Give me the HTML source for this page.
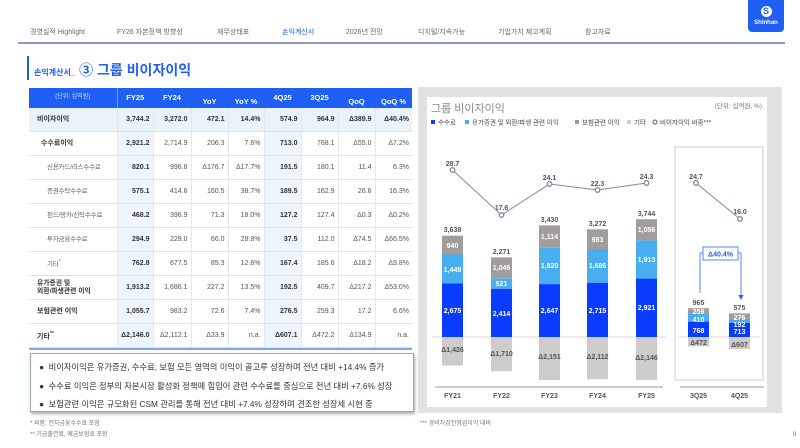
<!DOCTYPE html>
<html><head><meta charset="utf-8"><style>
*{margin:0;padding:0;box-sizing:border-box}
body{width:800px;height:448px;background:#fff;position:relative;overflow:hidden;font-family:"Liberation Sans","Noto Sans CJK KR",sans-serif}
.a{position:absolute;white-space:nowrap}
.nav{top:27px;font-size:7px;color:#666}
table{position:absolute;left:29px;top:87px;border-collapse:collapse;table-layout:fixed;font-size:7px;width:383px}
td{height:24px;max-height:24px;line-height:9px;text-align:right;padding-right:3px;color:#555;border-bottom:1px solid #dde3ea;border-left:1px solid #e4e8ee;white-space:nowrap;overflow:hidden}
td.l{text-align:left;border-left:none;color:#333;font-weight:bold;padding-left:8px}
td.s{font-weight:normal;color:#666;padding-left:18px;font-size:6.5px;letter-spacing:-0.2px}
td.l2{padding-left:12px}
td.b{font-weight:bold;color:#333;background:#eef6fd}
tr.r1 td{background:#e8f3fc;font-weight:bold;color:#333}
tr.h td{height:20px;background:#1f5ff5;color:#fff;font-weight:bold;text-align:center;padding:0;border:none;font-size:7.5px}
svg text{font-family:"Liberation Sans","Noto Sans CJK KR",sans-serif}
</style></head><body>
<div class="a nav" style="left:30px">경영실적 Highlight</div>
<div class="a nav" style="left:117px">FY26 자본정책 방향성</div>
<div class="a nav" style="left:217px">재무상태표</div>
<div class="a nav" style="left:282px;color:#1f5ff5">손익계산서</div>
<div class="a nav" style="left:346px">2026년 전망</div>
<div class="a nav" style="left:418px">디지털/지속가능</div>
<div class="a nav" style="left:498px">기업가치 제고계획</div>
<div class="a nav" style="left:585px">참고자료</div>
<div class="a" style="left:748px;top:0;width:36px;height:32px;background:#1f5ff5;border-radius:0 0 4px 4px;color:#fff;font-size:6px;text-align:center;padding-top:6px;font-weight:bold"><div style="width:11px;height:11px;border-radius:50%;background:#fff;margin:0 auto 3px;color:#1f5ff5;font-size:9px;line-height:11px">S</div>Shinhan</div>
<div class="a" style="left:18px;top:42px;width:767px;height:2px;background:#8a9ab8"></div>
<div class="a" style="left:27px;top:56px;width:2px;height:24px;background:#1f5ff5"></div>
<div class="a" style="left:34px;top:60px;color:#1f5ff5;font-weight:bold;font-size:14px"><span style="font-size:8px">손익계산서_</span> ③ 그룹 비이자이익</div>

<table>
<colgroup><col style="width:88px"><col style="width:36px"><col style="width:38px"><col style="width:37px"><col style="width:36px"><col style="width:37px"><col style="width:37px"><col style="width:37px"><col style="width:37px"></colgroup>
<tr class="h"><td style="font-weight:normal;font-size:6px;color:#cfe0ff;border-right:1px solid #6f95f8">(단위: 십억원)</td><td>FY25</td><td>FY24</td><td style="border-top:1px solid #fff;padding-top:7px">YoY</td><td style="border-top:1px solid #fff;padding-top:7px">YoY %</td><td>4Q25</td><td>3Q25</td><td style="border-top:1px solid #fff;padding-top:7px">QoQ</td><td style="border-top:1px solid #fff;padding-top:7px">QoQ %</td></tr>
<tr class="r1"><td class="l">비이자이익</td><td>3,744.2</td><td>3,272.0</td><td>472.1</td><td>14.4%</td><td>574.9</td><td>964.9</td><td>Δ389.9</td><td>Δ40.4%</td></tr>
<tr><td class="l l2">수수료이익</td><td class="b">2,921.2</td><td>2,714.9</td><td>206.3</td><td>7.6%</td><td class="b">713.0</td><td>768.1</td><td>Δ55.0</td><td>Δ7.2%</td></tr>
<tr><td class="l s">신용카드/리스수수료</td><td class="b">820.1</td><td>996.8</td><td>Δ176.7</td><td>Δ17.7%</td><td class="b">191.5</td><td>180.1</td><td>11.4</td><td>6.3%</td></tr>
<tr><td class="l s">증권수탁수수료</td><td class="b">575.1</td><td>414.6</td><td>160.5</td><td>38.7%</td><td class="b">189.5</td><td>162.9</td><td>26.6</td><td>16.3%</td></tr>
<tr><td class="l s">펀드/방카/신탁수수료</td><td class="b">468.2</td><td>396.9</td><td>71.3</td><td>18.0%</td><td class="b">127.2</td><td>127.4</td><td>Δ0.3</td><td>Δ0.2%</td></tr>
<tr><td class="l s">투자금융수수료</td><td class="b">294.9</td><td>229.0</td><td>66.0</td><td>28.8%</td><td class="b">37.5</td><td>112.0</td><td>Δ74.5</td><td>Δ66.5%</td></tr>
<tr><td class="l s">기타<sup style="font-size:5px">*</sup></td><td class="b">762.8</td><td>677.5</td><td>85.3</td><td>12.6%</td><td class="b">167.4</td><td>185.6</td><td>Δ18.2</td><td>Δ9.8%</td></tr>
<tr><td class="l" style="line-height:8px;font-size:6.8px">유가증권 및<br>외환/파생관련 이익</td><td class="b">1,913.2</td><td>1,686.1</td><td>227.2</td><td>13.5%</td><td class="b">192.5</td><td>409.7</td><td>Δ217.2</td><td>Δ53.0%</td></tr>
<tr><td class="l">보험관련 이익</td><td class="b">1,055.7</td><td>983.2</td><td>72.6</td><td>7.4%</td><td class="b">276.5</td><td>259.3</td><td>17.2</td><td>6.6%</td></tr>
<tr><td class="l">기타<sup style="font-size:5px">**</sup></td><td class="b">Δ2,146.0</td><td>Δ2,112.1</td><td>Δ33.9</td><td>n.a.</td><td class="b">Δ607.1</td><td>Δ472.2</td><td>Δ134.9</td><td>n.a.</td></tr>
</table>
<div class="a" style="left:29px;top:348px;width:383px;height:2px;background:#7fa6f2"></div>

<div class="a" style="left:30px;top:353px;width:384px;height:59px;border:1px solid #9aa;box-shadow:1px 2px 3px #aaa;font-size:8.3px;color:#333;line-height:18.5px;padding:4px 0 0 8px;background:#fff">
<div>● &nbsp;비이자이익은 유가증권, 수수료, 보험 모든 영역의 이익이 골고루 성장하며 전년 대비 +14.4% 증가</div>
<div>● &nbsp;수수료 이익은 정부의 자본시장 활성화 정책에 힘입어 관련 수수료를 중심으로 전년 대비 +7.6% 성장</div>
<div>● &nbsp;보험관련 이익은 규모화된 CSM 관리를 통해 전년 대비 +7.4% 성장하며 견조한 성장세 시현 중</div>
</div>
<div class="a" style="left:30px;top:418px;font-size:6px;color:#777">* 외환, 전자금융수수료 포함</div>
<div class="a" style="left:30px;top:429px;font-size:6px;color:#777">** 기금출연료, 예금보험료 포함</div>
<div class="a" style="left:420px;top:418px;font-size:6px;color:#777">*** 경비차감전영업이익 대비</div>
<div class="a" style="left:793px;top:432px;font-size:6px;color:#777">8</div>

<svg class="a" style="left:0;top:0" width="800" height="448">
<rect x="418" y="87" width="364" height="326" fill="#e2e2e2"/>
<rect x="427" y="97" width="340" height="310" fill="#fff"/>
<text x="431" y="112" font-size="11" fill="#888">그룹 비이자이익</text>
<text x="762" y="108" font-size="6.5" fill="#777" text-anchor="end">(단위: 십억원, %)</text>
<g font-size="6.5" fill="#444">
<rect x="431" y="120" width="4" height="4" fill="#0a3cff"/><text x="438" y="124.5">수수료</text>
<rect x="465" y="120" width="4" height="4" fill="#47aef0"/><text x="472" y="124.5">유가증권 및 외환/파생 관련 이익</text>
<rect x="575" y="120" width="4" height="4" fill="#9e9a9a"/><text x="582" y="124.5">보험관련 이익</text>
<rect x="627" y="120" width="4" height="4" fill="#cfcdcd"/><text x="634" y="124.5">기타</text>
<circle cx="655" cy="122" r="2" fill="none" stroke="#6a7a9a" stroke-width="1.2"/><text x="660" y="124.5">비이자이익 비중***</text>
</g>
<rect x="675" y="147" width="88" height="233" fill="none" stroke="#ccc"/>
<line x1="432" y1="337" x2="666" y2="337" stroke="#ddd"/>
<line x1="678" y1="337" x2="760" y2="337" stroke="#ddd"/>
<line x1="435" y1="387" x2="663" y2="387" stroke="#999"/>
<line x1="680" y1="387" x2="764" y2="387" stroke="#999"/>
<g>
<rect x="442" y="337" width="21" height="28.5" fill="#cdcbcb"/>
<rect x="442" y="283.5" width="21" height="53.5" fill="#0a3cff"/>
<rect x="442" y="254.5" width="21" height="29" fill="#47aef0"/>
<rect x="442" y="235.7" width="21" height="18.8" fill="#a19d9d"/>
<rect x="491" y="337" width="21" height="34.2" fill="#cdcbcb"/>
<rect x="491" y="288.7" width="21" height="48.3" fill="#0a3cff"/>
<rect x="491" y="278.3" width="21" height="10.4" fill="#47aef0"/>
<rect x="491" y="257.4" width="21" height="20.9" fill="#a19d9d"/>
<rect x="539" y="337" width="21" height="43" fill="#cdcbcb"/>
<rect x="539" y="284.1" width="21" height="52.9" fill="#0a3cff"/>
<rect x="539" y="247.7" width="21" height="36.4" fill="#47aef0"/>
<rect x="539" y="225.4" width="21" height="22.3" fill="#a19d9d"/>
<rect x="587" y="337" width="21" height="42.2" fill="#cdcbcb"/>
<rect x="587" y="282.7" width="21" height="54.3" fill="#0a3cff"/>
<rect x="587" y="249" width="21" height="33.7" fill="#47aef0"/>
<rect x="587" y="229.3" width="21" height="19.7" fill="#a19d9d"/>
<rect x="636" y="337" width="21" height="42.9" fill="#cdcbcb"/>
<rect x="636" y="278.6" width="21" height="58.4" fill="#0a3cff"/>
<rect x="636" y="240.3" width="21" height="38.3" fill="#47aef0"/>
<rect x="636" y="219.2" width="21" height="21.1" fill="#a19d9d"/>
<rect x="688" y="337" width="21" height="9.4" fill="#cdcbcb"/>
<rect x="688" y="321.6" width="21" height="15.4" fill="#0a3cff"/>
<rect x="688" y="313.4" width="21" height="8.2" fill="#47aef0"/>
<rect x="688" y="308.2" width="21" height="5.2" fill="#a19d9d"/>
<rect x="729" y="337" width="21" height="12.1" fill="#cdcbcb"/>
<rect x="729" y="322.7" width="21" height="14.3" fill="#0a3cff"/>
<rect x="729" y="318.9" width="21" height="3.8" fill="#47aef0"/>
<rect x="729" y="313.4" width="21" height="5.5" fill="#a19d9d"/>
</g>
<g font-size="7" font-weight="bold" fill="#fff" text-anchor="middle">
<text x="452.5" y="313">2,675</text><text x="452.5" y="272">1,449</text><text x="452.5" y="248">940</text>
<text x="501.5" y="316">2,414</text><text x="501.5" y="286">521</text><text x="501.5" y="270">1,046</text>
<text x="549.5" y="313">2,647</text><text x="549.5" y="268">1,820</text><text x="549.5" y="239">1,114</text>
<text x="597.5" y="313">2,715</text><text x="597.5" y="268">1,686</text><text x="597.5" y="242">983</text>
<text x="646.5" y="310">2,921</text><text x="646.5" y="262">1,913</text><text x="646.5" y="232">1,056</text>
<text x="698.5" y="333">768</text><text x="698.5" y="322">410</text><text x="698.5" y="314">259</text>
<text x="739.5" y="334">713</text><text x="739.5" y="327">192</text><text x="739.5" y="320">276</text>
</g>
<g font-size="7" font-weight="bold" fill="#555" text-anchor="middle">
<text x="452.5" y="232">3,638</text><text x="501.5" y="254">2,271</text><text x="549.5" y="222">3,430</text><text x="597.5" y="226">3,272</text><text x="646.5" y="216">3,744</text>
<text x="698.5" y="305">965</text><text x="739.5" y="310">575</text>
<text x="452.5" y="352">Δ1,426</text><text x="501.5" y="356">Δ1,710</text><text x="549.5" y="359">Δ2,151</text><text x="597.5" y="359">Δ2,112</text><text x="646.5" y="360">Δ2,146</text>
<text x="698.5" y="345">Δ472</text><text x="739.5" y="347">Δ607</text>
<text x="452.5" y="166">28.7</text><text x="501.5" y="210">17.6</text><text x="549.5" y="180">24.1</text><text x="597.5" y="186">22.3</text><text x="646.5" y="179">24.3</text>
<text x="696" y="179">24.7</text><text x="740" y="214">16.0</text>
</g>
<polyline points="452.5,170 501.5,215 549.5,184 597.5,190 646.5,183" fill="none" stroke="#7a89a8" stroke-width="1"/>
<line x1="696" y1="183" x2="740" y2="219" stroke="#7a89a8" stroke-width="1"/>
<g fill="#fff" stroke="#7a89a8" stroke-width="1.3">
<circle cx="452.5" cy="170" r="2.3"/><circle cx="501.5" cy="215" r="2.3"/><circle cx="549.5" cy="184" r="2.3"/><circle cx="597.5" cy="190" r="2.3"/><circle cx="646.5" cy="183" r="2.3"/><circle cx="696" cy="183" r="2.3"/><circle cx="740" cy="219" r="2.3"/>
</g>
<polyline points="700,293 700,253 703,253" fill="none" stroke="#5a86f5" stroke-width="1"/>
<polyline points="738,253 741,253 741,296" fill="none" stroke="#5a86f5" stroke-width="1"/>
<polygon points="738.5,295 743.5,295 741,300" fill="#2a5cf5"/>
<rect x="703" y="247" width="35" height="13" fill="#fff" stroke="#5a86f5"/>
<text x="720.5" y="256.5" font-size="7" font-weight="bold" fill="#1f5ff5" text-anchor="middle">Δ40.4%</text>
<g font-size="7" font-weight="bold" fill="#555" text-anchor="middle">
<text x="452.5" y="398">FY21</text><text x="501.5" y="398">FY22</text><text x="549.5" y="398">FY23</text><text x="597.5" y="398">FY24</text><text x="646.5" y="398">FY25</text><text x="698.5" y="398">3Q25</text><text x="739.5" y="398">4Q25</text>
</g>
</svg>
</body></html>
